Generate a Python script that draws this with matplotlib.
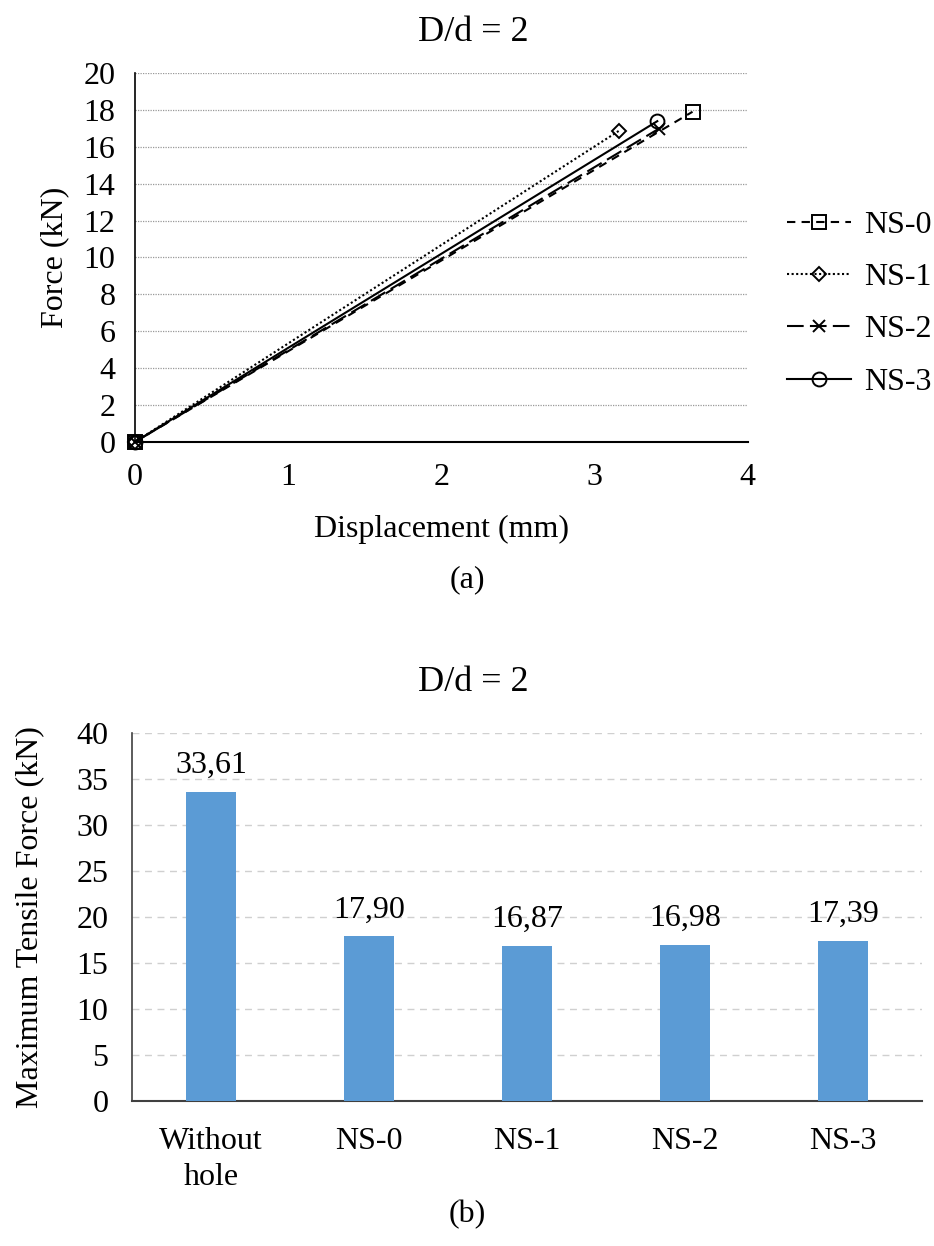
import numpy as np
import matplotlib.pyplot as plt

plt.rcParams['font.family'] = ['Liberation Serif', 'DejaVu Serif']

# Force-displacement data (start and peak points)
series_names = ["NS-0", "NS-1", "NS-2", "NS-3"]
disp_ns0 = [0, 3.64]
force_ns0 = [0, 17.90]
disp_ns1 = [0, 3.16]
force_ns1 = [0, 16.87]
disp_ns2 = [0, 3.42]
force_ns2 = [0, 16.98]
disp_ns3 = [0, 3.41]
force_ns3 = [0, 17.39]

# Maximum tensile force data
bar_labels = ["Without\nhole", "NS-0", "NS-1", "NS-2", "NS-3"]
bar_values = [33.61, 17.90, 16.87, 16.98, 17.39]

fig = plt.figure(figsize=(9.34, 12.46), dpi=100)
fs = 23

# (a) line chart
ax1 = fig.add_axes([0.1445, 0.6453, 0.656, 0.2961])
styles = [
    (disp_ns0, force_ns0, (0, (4, 3)), "s"),
    (disp_ns1, force_ns1, (0, (1, 1.2)), "D"),
    (disp_ns2, force_ns2, (0, (8, 3)), "x"),
    (disp_ns3, force_ns3, "-", "o"),
]
for name, (xs, ys, ls, mk) in zip(series_names, styles):
    ms = {"s": 10, "D": 7, "x": 8, "o": 10}[mk]
    ax1.plot(xs, ys, color="black", linestyle=ls, linewidth=1.5, marker=mk,
             markersize=ms, markerfacecolor="none", markeredgecolor="black",
             markeredgewidth=1.4, label=name, clip_on=False, zorder=3)
ax1.set_xlim(0, 4)
ax1.set_ylim(0, 20)
ax1.set_xticks(np.arange(0, 5, 1))
ax1.set_yticks(np.arange(0, 21, 2))
ax1.grid(axis="y", linestyle=(0, (1, 1)), color="#999999", linewidth=0.9)
ax1.set_axisbelow(True)
for s in ["top", "right"]:
    ax1.spines[s].set_visible(False)
ax1.spines["left"].set_color("black")
ax1.spines["bottom"].set_color("black")
ax1.spines["left"].set_linewidth(1.2)
ax1.spines["bottom"].set_linewidth(1.5)
ax1.tick_params(axis="y", length=0, labelsize=fs, pad=14)
ax1.tick_params(axis="x", length=0, labelsize=fs, pad=15)
ax1.set_xlabel("Displacement (mm)", fontsize=fs, labelpad=17)
ax1.set_ylabel("Force (kN)", fontsize=fs, labelpad=10)
fig.text(0.507, 0.974, "D/d = 2", ha="center", va="center", fontsize=26)
ax1.legend(loc="center left", bbox_to_anchor=(1.028, 0.375), frameon=False,
           fontsize=fs, handlelength=2.0, handletextpad=0.4,
           labelspacing=0.72, borderaxespad=0.3)
fig.text(0.5, 0.535, "(a)", ha="center", va="center", fontsize=fs)

# (b) bar chart
ax2 = fig.add_axes([0.1413, 0.1164, 0.846, 0.2953])
x = np.arange(len(bar_labels))
bars = ax2.bar(x, bar_values, width=0.317, color="#5B9BD5", zorder=3)
for xi, v in zip(x, bar_values):
    ax2.text(xi, v + 1.3, f"{v:.2f}".replace(".", ","), ha="center",
             va="bottom", fontsize=fs)
ax2.set_xlim(-0.5, len(bar_labels) - 0.5)
ax2.set_ylim(0, 40)
ax2.set_yticks(np.arange(0, 41, 5))
ax2.set_xticks(x)
ax2.set_xticklabels(bar_labels, fontsize=fs, linespacing=1.3)
ax2.grid(axis="y", linestyle=(0, (5, 4)), color="#d0d0d0", linewidth=1)
ax2.set_axisbelow(True)
for s in ["top", "right"]:
    ax2.spines[s].set_visible(False)
ax2.spines["left"].set_color("#404040")
ax2.spines["bottom"].set_color("#404040")
ax2.spines["left"].set_linewidth(1.2)
ax2.spines["bottom"].set_linewidth(1.5)
ax2.tick_params(axis="y", length=0, labelsize=fs, pad=17)
ax2.tick_params(axis="x", length=0, labelsize=fs, pad=19)
ax2.set_ylabel("Maximum Tensile Force (kN)", fontsize=fs, labelpad=23)
fig.text(0.507, 0.452, "D/d = 2", ha="center", va="center", fontsize=26)
fig.text(0.5, 0.025, "(b)", ha="center", va="center", fontsize=fs)

fig.savefig("out.png", dpi=100)
